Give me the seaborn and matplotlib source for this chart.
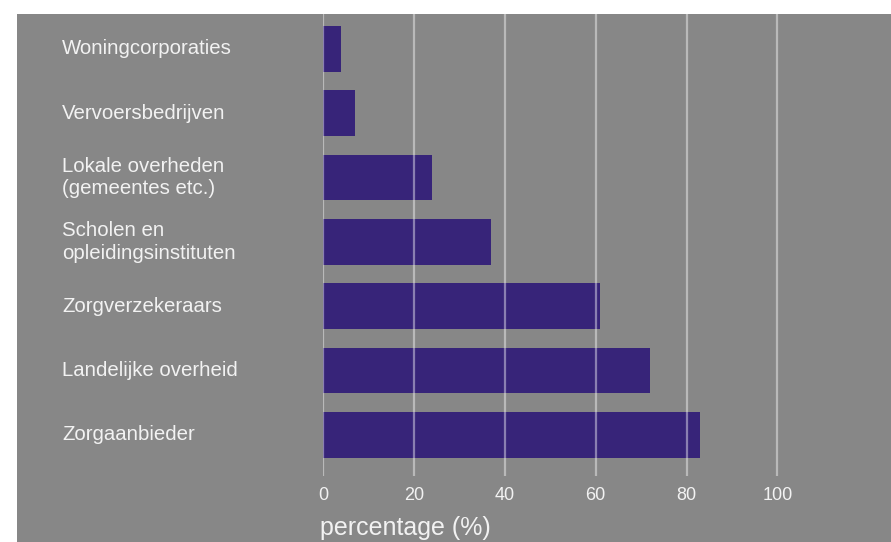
import matplotlib
matplotlib.use("Agg")
import matplotlib.pyplot as plt
import matplotlib.patches as mpatches
import matplotlib.transforms as mtransforms
import seaborn as sns
import pandas as pd

categories = [
    "Woningcorporaties",
    "Vervoersbedrijven",
    "Lokale overheden\n(gemeentes etc.)",
    "Scholen en\nopleidingsinstituten",
    "Zorgverzekeraars",
    "Landelijke overheid",
    "Zorgaanbieder",
]
values = [4, 7, 24, 37, 61, 72, 83]
x_ticks = [0, 20, 40, 60, 80, 100]

df = pd.DataFrame({"categorie": categories, "percentage": values})

BG = "#878787"
BAR = "#372479"
TXT = "#f2f2f2"

sns.set_theme(style="white")
plt.rcParams["font.family"] = ["Liberation Sans", "DejaVu Sans"]

W, H = 891, 542
fig = plt.figure(figsize=(W / 100, H / 100), dpi=100, facecolor="white")

# grey panel behind everything
fig.patches.append(mpatches.Rectangle((17 / W, 0), 1 - 17 / W, 1 - 14 / H,
                                      transform=fig.transFigure, facecolor=BG,
                                      edgecolor="none", zorder=-5))

ax = fig.add_axes([323 / W, (H - 476) / H, (W - 323) / W, (476 - 14) / H])
ax.set_facecolor("none")
ax.set_zorder(2)

sns.barplot(data=df, x="percentage", y="categorie", orient="h", color=BAR,
            saturation=1, width=0.71, linewidth=0, ax=ax, zorder=2)

# translucent vertical guides drawn over the bars
for t in x_ticks:
    ax.axvline(t, color="white", alpha=0.42, lw=1.6, zorder=3)

ax.set_xlim(0, 125)
ax.set_ylim(6.64, -0.54)
ax.set_xticks(x_ticks)
ax.set_xticklabels([str(t) for t in x_ticks], color=TXT, fontsize=13)
ax.tick_params(axis="x", length=0, pad=8)
ax.set_yticks([])
ax.set_ylabel("")
ax.set_xlabel("")
for s in ax.spines.values():
    s.set_visible(False)

# category labels, left aligned in the margin
trans = mtransforms.blended_transform_factory(fig.transFigure, ax.transData)
for i, c in enumerate(categories):
    fig.text(62 / W, i, c, transform=trans, ha="left", va="center",
             color=TXT, fontsize=14.7, linespacing=1.25)

fig.text(320 / W, 1 - 528 / H, "percentage (%)", ha="left", va="center",
         color=TXT, fontsize=18)

fig.savefig("out.png", dpi=100, facecolor="white")
